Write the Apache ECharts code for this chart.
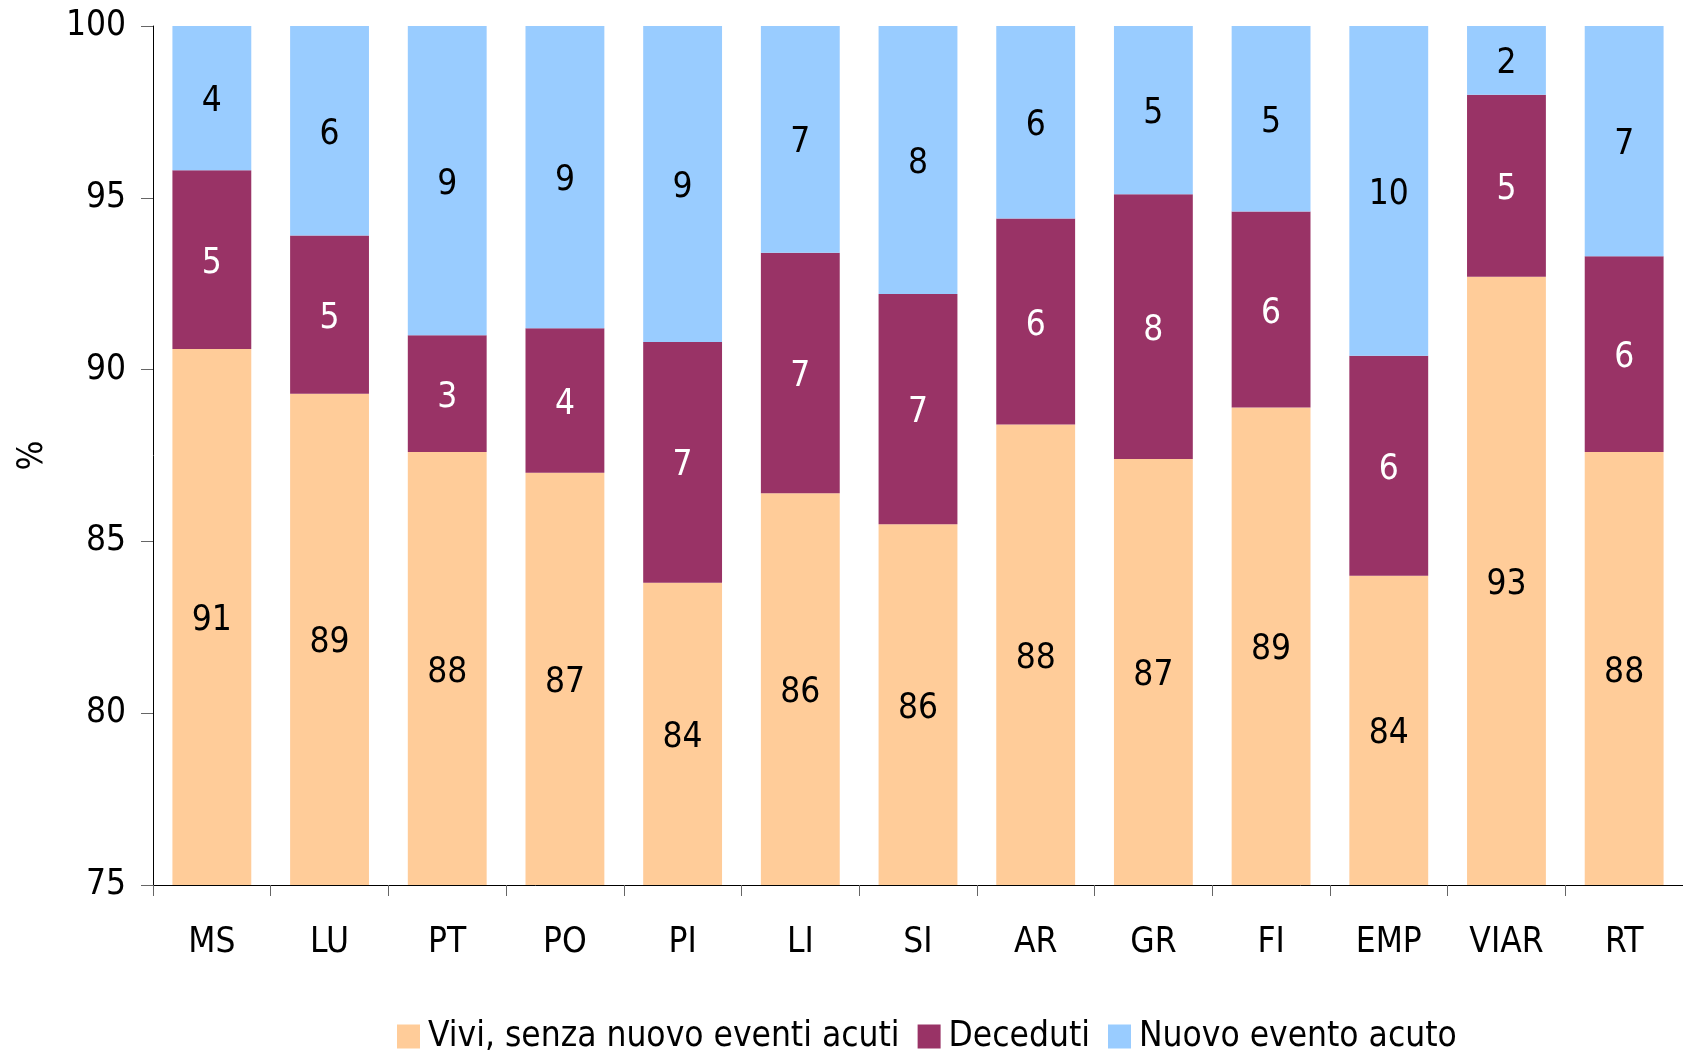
<!DOCTYPE html>
<html>
<head>
<meta charset="utf-8">
<title>Esiti per zona</title>
<script src="https://cdn.jsdelivr.net/npm/echarts@6/dist/echarts.min.js"></script>
<style>
	html, body { margin: 0; padding: 0; background: #fff; }
	#chart { width: 1683px; height: 1054px; }
</style>
</head>
<body>
<div id="chart"></div>
<script>
// dati (percentuali)
var categories = ['MS', 'LU', 'PT', 'PO', 'PI', 'LI', 'SI', 'AR', 'GR', 'FI', 'EMP', 'VIAR', 'RT'];
var seriesNames = ['Vivi, senza nuovo eventi acuti', 'Deceduti', 'Nuovo evento acuto'];
var vivi = [90.6, 89.3, 87.6, 87.0, 83.8, 86.4, 85.5, 88.4, 87.4, 88.9, 84.0, 92.7, 87.6];
var deceduti = [5.2, 4.6, 3.4, 4.2, 7.0, 7.0, 6.7, 6.0, 7.7, 5.7, 6.4, 5.3, 5.7];
var nuovoEvento = [4.2, 6.1, 9.0, 8.8, 9.2, 6.6, 7.8, 5.6, 4.9, 5.4, 9.6, 2.0, 6.7];
var yTicks = [75, 80, 85, 90, 95, 100];

var FONT = "'DejaVu Sans Condensed', 'DejaVu Sans', sans-serif";
var FONT_SIZE = 35;
var colors = ['#FFCC99', '#993366', '#99CCFF'];

function makeSeries(name, data, color, labelColor) {
	return {
		name: name,
		type: 'bar',
		stack: 'tot',
		data: data,
		barCategoryGap: '33%',
		itemStyle: { color: color },
		label: {
			show: true,
			position: 'inside',
			offset: [0, 4],
			color: labelColor,
			fontFamily: FONT,
			fontSize: FONT_SIZE,
			formatter: function(p) {
				return Math.round(p.value);
			}
		}
	};
}

function initEchart(id, option) {
	var chart = echarts.init(document.getElementById(id), null, { renderer: 'canvas' });
	chart.setOption(option);
	return chart;
}

var option = {
	animation: false,
	color: colors,
	textStyle: { fontFamily: FONT },
	grid: { left: 153, right: -4, top: 26, bottom: 169, containLabel: false },
	legend: {
		left: 397,
		top: 1019,
		padding: 0,
		itemGap: 18,
		itemWidth: 23,
		itemHeight: 24,
		icon: 'rect',
		textStyle: { fontFamily: FONT, fontSize: FONT_SIZE, color: '#000', padding: [0, 0, 0, 3] },
		data: seriesNames
	},
	xAxis: {
		type: 'category',
		data: categories,
		axisLine: { lineStyle: { color: '#000', width: 1 } },
		axisTick: { show: true, length: 11, lineStyle: { color: '#666' } },
		axisLabel: { color: '#000', fontFamily: FONT, fontSize: FONT_SIZE, margin: 40 }
	},
	yAxis: {
		type: 'value',
		min: yTicks[0],
		max: yTicks[yTicks.length - 1],
		interval: 5,
		name: '%',
		nameLocation: 'middle',
		nameGap: 103,
		nameTextStyle: { color: '#000', fontFamily: FONT, fontSize: FONT_SIZE },
		splitLine: { show: false },
		axisLine: { show: true, lineStyle: { color: '#000', width: 1 } },
		axisTick: { show: true, length: 12, lineStyle: { color: '#666' } },
		axisLabel: { color: '#000', fontFamily: FONT, fontSize: FONT_SIZE, margin: 27 }
	},
	series: [
		makeSeries(seriesNames[0], vivi, colors[0], '#000'),
		makeSeries(seriesNames[1], deceduti, colors[1], '#fff'),
		makeSeries(seriesNames[2], nuovoEvento, colors[2], '#000')
	]
};

initEchart('chart', option);
</script>
</body>
</html>
